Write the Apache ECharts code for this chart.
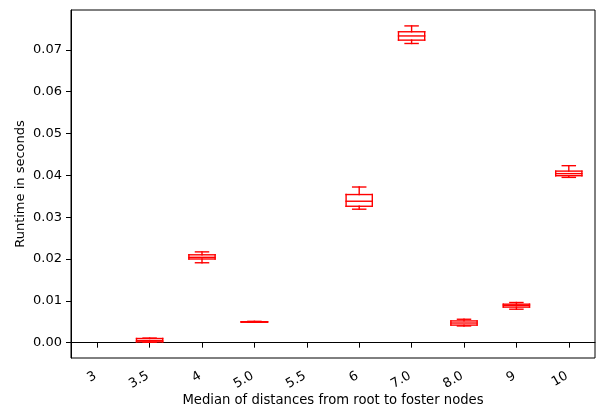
<!DOCTYPE html>
<html>
<head>
<meta charset="utf-8">
<script src="https://cdn.jsdelivr.net/npm/echarts@6/dist/echarts.min.js"></script>
<style>
html,body{margin:0;padding:0;background:#fff;}
#chart{width:601px;height:410px;}
</style>
</head>
<body>
<div id="chart"></div>
<script>
const categories = ['3', '3.5', '4', '5.0', '5.5', '6', '7.0', '8.0', '9', '10'];
const whiskerLow = [null, 0.0001, 0.0191, 0.0049, null, 0.0319, 0.0715, 0.0040, 0.0080, 0.0395];
const q1Values   = [null, 0.0002, 0.0200, 0.0049, null, 0.0326, 0.0723, 0.0042, 0.0085, 0.0399];
const medians    = [null, 0.0005, 0.0204, 0.0050, null, 0.0338, 0.0733, 0.0047, 0.0089, 0.0404];
const q3Values   = [null, 0.0010, 0.0210, 0.0050, null, 0.0354, 0.0743, 0.0052, 0.0092, 0.0410];
const whiskerHigh= [null, 0.0011, 0.0217, 0.0051, null, 0.0372, 0.0757, 0.0056, 0.0096, 0.0423];
const yTicks = [0, 0.01, 0.02, 0.03, 0.04, 0.05, 0.06, 0.07];

const boxData = [];
categories.forEach((c, i) => {
  if (medians[i] == null) return;
  boxData.push([i, whiskerLow[i], q1Values[i], medians[i], q3Values[i], whiskerHigh[i]]);
});

const RED = '#ff0000';
const LW = 1.4;
function seg(x1, y1, x2, y2) {
  return {
    type: 'line', silent: true,
    shape: {x1: x1, y1: y1, x2: x2, y2: y2},
    style: {stroke: RED, lineWidth: LW, fill: null, lineCap: 'square'}
  };
}

function renderItem(params, api) {
  const x = api.value(0);
  const pLo = api.coord([x, api.value(1)]);
  const pQ1 = api.coord([x, api.value(2)]);
  const pMed = api.coord([x, api.value(3)]);
  const pQ3 = api.coord([x, api.value(4)]);
  const pHi = api.coord([x, api.value(5)]);
  const band = api.size([1, 0])[0];
  const half = band * 0.25;
  const cap = band * 0.125;
  const cx = pMed[0];
  const yLo = pLo[1], yQ1 = pQ1[1], yMed = pMed[1], yQ3 = pQ3[1], yHi = pHi[1];
  const xl = cx - half, xr = cx + half;
  const cl = cx - cap, cr = cx + cap;
  return {
    type: 'group',
    silent: true,
    children: [
      seg(xl, yQ1, xr, yQ1),
      seg(xl, yQ3, xr, yQ3),
      seg(xl, yQ1, xl, yQ3),
      seg(xr, yQ1, xr, yQ3),
      seg(xl, yMed, xr, yMed),
      seg(cx, yQ1, cx, yLo),
      seg(cx, yQ3, cx, yHi),
      seg(cl, yLo, cr, yLo),
      seg(cl, yHi, cr, yHi)
    ]
  };
}

const FONT = 'DejaVu Sans';
const chart = echarts.init(document.getElementById('chart'), null, {renderer: 'canvas'});
chart.setOption({
  animation: false,
  backgroundColor: '#fff',
  color: [RED],
  textStyle: {fontFamily: FONT},
  grid: {left: 71, right: 6, top: 10, bottom: 52, show: true, borderColor: '#000', borderWidth: 1,
    containLabel: false, outerBoundsMode: 'none'},
  xAxis: {
    type: 'category',
    data: categories,
    boundaryGap: true,
    name: 'Median of distances from root to foster nodes',
    nameLocation: 'middle',
    nameGap: 36,
    nameMoveOverlap: false,
    nameTextStyle: {fontFamily: FONT, fontSize: 13.2, color: '#000'},
    axisLine: {show: true, lineStyle: {color: '#000', width: 1}},
    axisTick: {show: true, alignWithLabel: true, length: 5, lineStyle: {color: '#000'}},
    axisLabel: {rotate: 30, margin: 16, padding: [0, 2, 0, 0], fontFamily: FONT, fontSize: 13, color: '#000', interval: 0},
    splitLine: {show: false}
  },
  yAxis: {
    type: 'value',
    min: -0.00366,
    max: 0.0795,
    name: 'Runtime in seconds',
    nameLocation: 'middle',
    nameGap: 44,
    nameMoveOverlap: false,
    nameTextStyle: {fontFamily: FONT, fontSize: 13, color: '#000'},
    axisLine: {show: true, lineStyle: {color: '#000', width: 1}},
    axisTick: {show: true, length: 5, lineStyle: {color: '#000'}, customValues: yTicks},
    axisLabel: {margin: 9, fontFamily: FONT, fontSize: 13, color: '#000', customValues: yTicks,
      formatter: v => v.toFixed(2)},
    splitLine: {show: false}
  },
  series: [{
    type: 'custom',
    silent: true,
    renderItem: renderItem,
    itemStyle: {color: RED, borderColor: RED},
    encode: {x: 0, y: [1, 2, 3, 4, 5]},
    data: boxData
  }]
});
</script>
</body>
</html>
